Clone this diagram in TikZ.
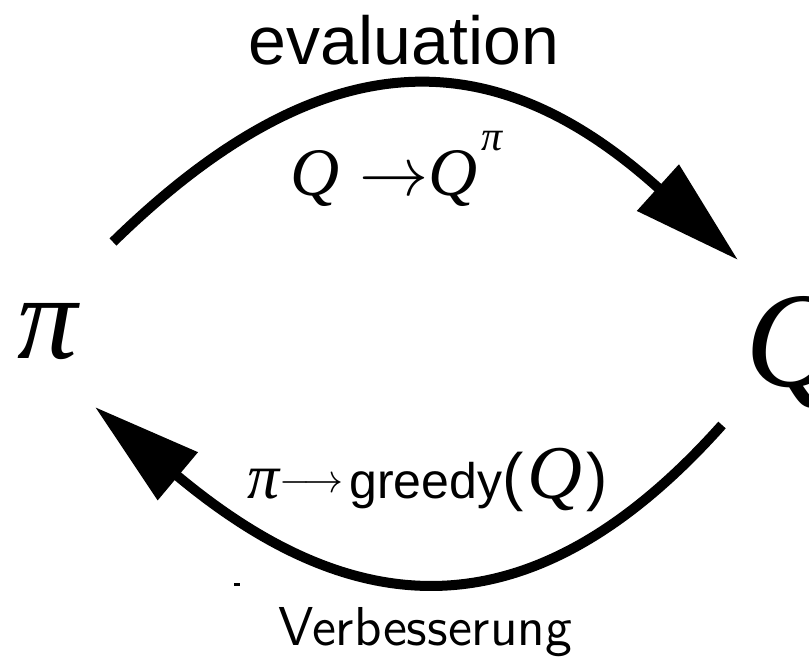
\documentclass[tikz,border=0pt]{standalone}
\usepackage{fontspec}
\usetikzlibrary{arrows.meta}
\newfontfamily\arialf{Liberation Sans}
\newfontfamily\timesf{Liberation Serif}
\begin{document}
\begin{tikzpicture}[x=0.25pt,y=-0.25pt,
  arc/.style={line width=2.5pt,-{Triangle[length=27pt,width=15pt]}},
  lbl/.style={inner sep=0pt,outer sep=0pt}]
\useasboundingbox (0,0) rectangle (809,662);
% labels
\node[lbl,anchor=base] (ev) at (404,65) {\arialf\fontsize{17}{20}\selectfont evaluation};
\node[lbl,anchor=base west] (evq) at (290,195) {\timesf\fontsize{17}{20}\selectfont\itshape Q\hspace{5pt}\upshape$\rightarrow$\itshape Q\hspace{1pt}\raisebox{11pt}{\fontsize{10.5}{12}\selectfont π}};
\node[lbl,anchor=base west] (pi) at (18,358) {\timesf\fontsize{30}{34}\selectfont\itshape π};
\node[lbl,anchor=base west] (q) at (745,386) {\timesf\fontsize{34}{38}\selectfont\itshape Q};
\node[lbl,anchor=base west] (gr) at (247,498) {\timesf\fontsize{16}{19}\selectfont\itshape π\upshape\raisebox{1.5pt}{\fontsize{10}{12}\selectfont$\longrightarrow$}\hspace{1.5pt}\arialf\fontsize{12.5}{15}\selectfont greedy\fontsize{16}{19}\selectfont(\hspace{1pt}\timesf\itshape\fontsize{19}{22}\selectfont Q\hspace{1pt}\arialf\upshape\fontsize{16}{19}\selectfont)};
\node[lbl,anchor=base] (vb) at (425,645) {\sffamily\fontsize{13.7}{16}\selectfont Verbesserung};
% arc end points
\coordinate (ts) at (113,242);
\coordinate (te) at (738,260);
\coordinate (bs) at (722,425);
\coordinate (be) at (95,407);
\draw[arc] (ts) .. controls (330,30) and (500,45) .. (te);
\draw[arc] (bs) .. controls (530,640) and (352,622) .. (be);
% stray mark
\fill (234,583) rectangle (240,586);
\end{tikzpicture}
\end{document}
